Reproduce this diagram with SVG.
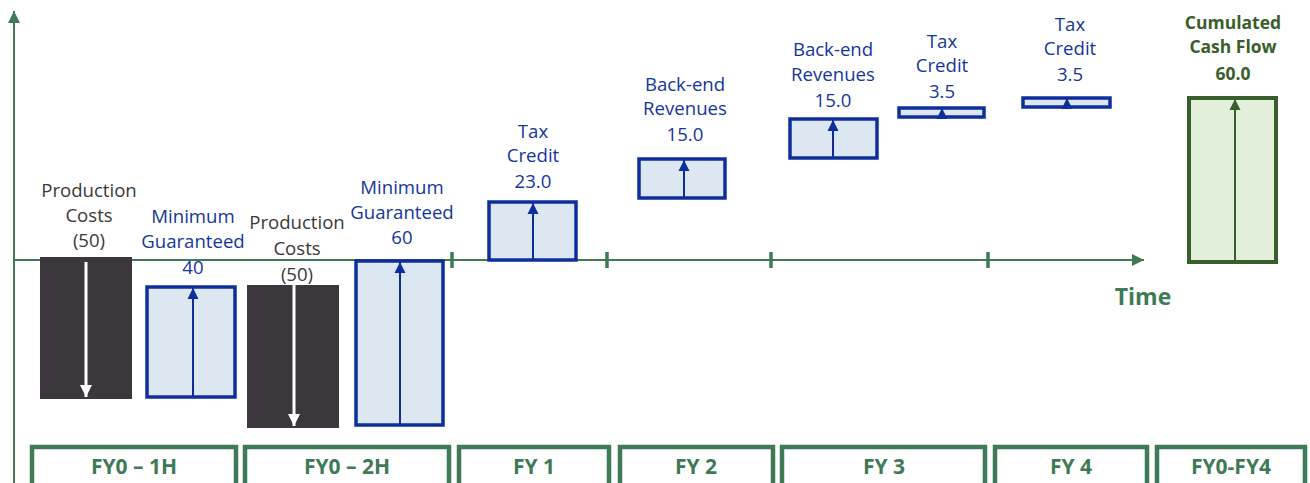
<svg xmlns="http://www.w3.org/2000/svg" width="1310" height="483" viewBox="0 0 1310 483">
<style>
.lbl{font-family:"Open Sans","Liberation Sans",sans-serif;font-size:18.6px;text-anchor:middle}
.blue{fill:#14359c}
.gray{fill:#3a3a3a}
.cum{fill:#3a5e29;font-weight:bold;font-size:17.5px}
.fy{font-family:"Open Sans","Liberation Sans",sans-serif;font-size:21px;font-weight:bold;fill:#3f7a57;text-anchor:middle}
.bbox{fill:#dde7f2;stroke:#0e2f9b;stroke-width:3.5}
.dbar{fill:#3c373d}
.barr{stroke:#0e2f9b;stroke-width:2;fill:none}
.warr{stroke:#ffffff;stroke-width:3;fill:none}
.garr{stroke:#3a5e29;stroke-width:2;fill:none}
.ax{stroke:#3f7a57;stroke-width:2;fill:none}
.tick{stroke:#3f7a57;stroke-width:3.5}
.fybox{fill:none;stroke:#3f7a57;stroke-width:4.5}
</style>
<defs>
<marker id="ahB" viewBox="0 0 10 10" refX="10" refY="5" markerWidth="11" markerHeight="12" markerUnits="userSpaceOnUse" orient="auto"><path d="M0,0 L10,5 L0,10 z" fill="#0e2f9b"/></marker>
<marker id="ahW" viewBox="0 0 10 10" refX="10" refY="5" markerWidth="12" markerHeight="12" markerUnits="userSpaceOnUse" orient="auto"><path d="M0,0 L10,5 L0,10 z" fill="#ffffff"/></marker>
<marker id="ahG" viewBox="0 0 10 10" refX="10" refY="5" markerWidth="11" markerHeight="12" markerUnits="userSpaceOnUse" orient="auto"><path d="M0,0 L10,5 L0,10 z" fill="#3a5e29"/></marker>
<marker id="ahA" viewBox="0 0 10 10" refX="10" refY="5" markerWidth="12" markerHeight="12" markerUnits="userSpaceOnUse" orient="auto"><path d="M0,0 L10,5 L0,10 z" fill="#3f7a57"/></marker>
</defs>

<g id="connectors">
<line class="ax" x1="14" y1="483" x2="14" y2="11" marker-end="url(#ahA)"/>
<line class="ax" x1="14" y1="260" x2="1144" y2="260" marker-end="url(#ahA)"/>
<line class="tick" x1="452" y1="252" x2="452" y2="268"/>
<line class="tick" x1="607" y1="252" x2="607" y2="268"/>
<line class="tick" x1="771" y1="252" x2="771" y2="268"/>
<line class="tick" x1="988" y1="252" x2="988" y2="268"/>
<text x="1143" y="305" style="font-family:'Open Sans','Liberation Sans',sans-serif;font-size:23px;font-weight:bold;fill:#3f7a57;text-anchor:middle">Time</text>
</g>

<g id="prod1">
<rect class="dbar" x="40" y="257" width="92" height="142"/>
<line class="warr" x1="86" y1="262" x2="86" y2="397" marker-end="url(#ahW)"/>
<text class="lbl gray" x="89" y="197">Production</text>
<text class="lbl gray" x="89" y="222">Costs</text>
<text class="lbl gray" x="89" y="247">(50)</text>
</g>

<g id="mg40">
<rect class="bbox" x="147" y="287" width="88" height="110"/>
<line class="barr" x1="193" y1="397" x2="193" y2="288" marker-end="url(#ahB)"/>
<text class="lbl blue" x="193" y="223">Minimum</text>
<text class="lbl blue" x="193" y="248">Guaranteed</text>
<text class="lbl blue" x="193" y="274">40</text>
</g>

<g id="prod2">
<rect class="dbar" x="247" y="285" width="92" height="143"/>
<line class="warr" x1="294" y1="261" x2="294" y2="426" marker-end="url(#ahW)"/>
<text class="lbl gray" x="297" y="229">Production</text>
<text class="lbl gray" x="297" y="255">Costs</text>
<text class="lbl gray" x="297" y="281">(50)</text>
</g>

<g id="mg60">
<rect class="bbox" x="356" y="261" width="87" height="164"/>
<line class="barr" x1="400" y1="425" x2="400" y2="262" marker-end="url(#ahB)"/>
<text class="lbl blue" x="402" y="194">Minimum</text>
<text class="lbl blue" x="402" y="219">Guaranteed</text>
<text class="lbl blue" x="402" y="244">60</text>
</g>

<g id="tax23">
<rect class="bbox" x="489" y="202" width="87" height="58"/>
<line class="barr" x1="533" y1="260" x2="533" y2="203" marker-end="url(#ahB)"/>
<text class="lbl blue" x="533" y="138">Tax</text>
<text class="lbl blue" x="533" y="162">Credit</text>
<text class="lbl blue" x="533" y="188">23.0</text>
</g>

<g id="backend-fy2">
<rect class="bbox" x="639" y="159" width="86" height="39"/>
<line class="barr" x1="684" y1="198" x2="684" y2="160" marker-end="url(#ahB)"/>
<text class="lbl blue" x="685" y="91">Back-end</text>
<text class="lbl blue" x="685" y="115">Revenues</text>
<text class="lbl blue" x="685" y="141">15.0</text>
</g>

<g id="backend-fy3">
<rect class="bbox" x="790" y="119" width="87" height="39"/>
<line class="barr" x1="833" y1="158" x2="833" y2="120" marker-end="url(#ahB)"/>
<text class="lbl blue" x="833" y="56">Back-end</text>
<text class="lbl blue" x="833" y="81">Revenues</text>
<text class="lbl blue" x="833" y="107">15.0</text>
</g>

<g id="tax-fy3">
<rect class="bbox" x="899" y="108" width="85" height="9"/>
<line class="barr" x1="942" y1="118" x2="942" y2="108" marker-end="url(#ahB)"/>
<text class="lbl blue" x="942" y="48">Tax</text>
<text class="lbl blue" x="942" y="72">Credit</text>
<text class="lbl blue" x="942" y="98">3.5</text>
</g>

<g id="tax-fy4">
<rect class="bbox" x="1023" y="98" width="87" height="9"/>
<line class="barr" x1="1067" y1="108" x2="1067" y2="98" marker-end="url(#ahB)"/>
<text class="lbl blue" x="1070" y="31">Tax</text>
<text class="lbl blue" x="1070" y="55">Credit</text>
<text class="lbl blue" x="1070" y="81">3.5</text>
</g>

<g id="cumulated">
<rect x="1189" y="98" width="87" height="164" fill="#e2efda" stroke="#3a5e29" stroke-width="4"/>
<line class="garr" x1="1235" y1="262" x2="1235" y2="99" marker-end="url(#ahG)"/>
<text class="lbl cum" x="1233" y="29">Cumulated</text>
<text class="lbl cum" x="1233" y="53">Cash Flow</text>
<text class="lbl cum" x="1233" y="80">60.0</text>
</g>

<g id="fy0-1h"><rect class="fybox" x="32" y="447" width="204" height="60"/><text class="fy" x="134" y="474">FY0 – 1H</text></g>
<g id="fy0-2h"><rect class="fybox" x="245" y="447" width="204" height="60"/><text class="fy" x="347" y="474">FY0 – 2H</text></g>
<g id="fy1"><rect class="fybox" x="459" y="447" width="150" height="60"/><text class="fy" x="534" y="474">FY 1</text></g>
<g id="fy2"><rect class="fybox" x="620" y="447" width="153" height="60"/><text class="fy" x="696" y="474">FY 2</text></g>
<g id="fy3"><rect class="fybox" x="782" y="447" width="203" height="60"/><text class="fy" x="884" y="474">FY 3</text></g>
<g id="fy4"><rect class="fybox" x="995" y="447" width="152" height="60"/><text class="fy" x="1071" y="474">FY 4</text></g>
<g id="fy0-fy4"><rect class="fybox" x="1157" y="447" width="148" height="60"/><text class="fy" x="1231" y="474">FY0-FY4</text></g>
</svg>
